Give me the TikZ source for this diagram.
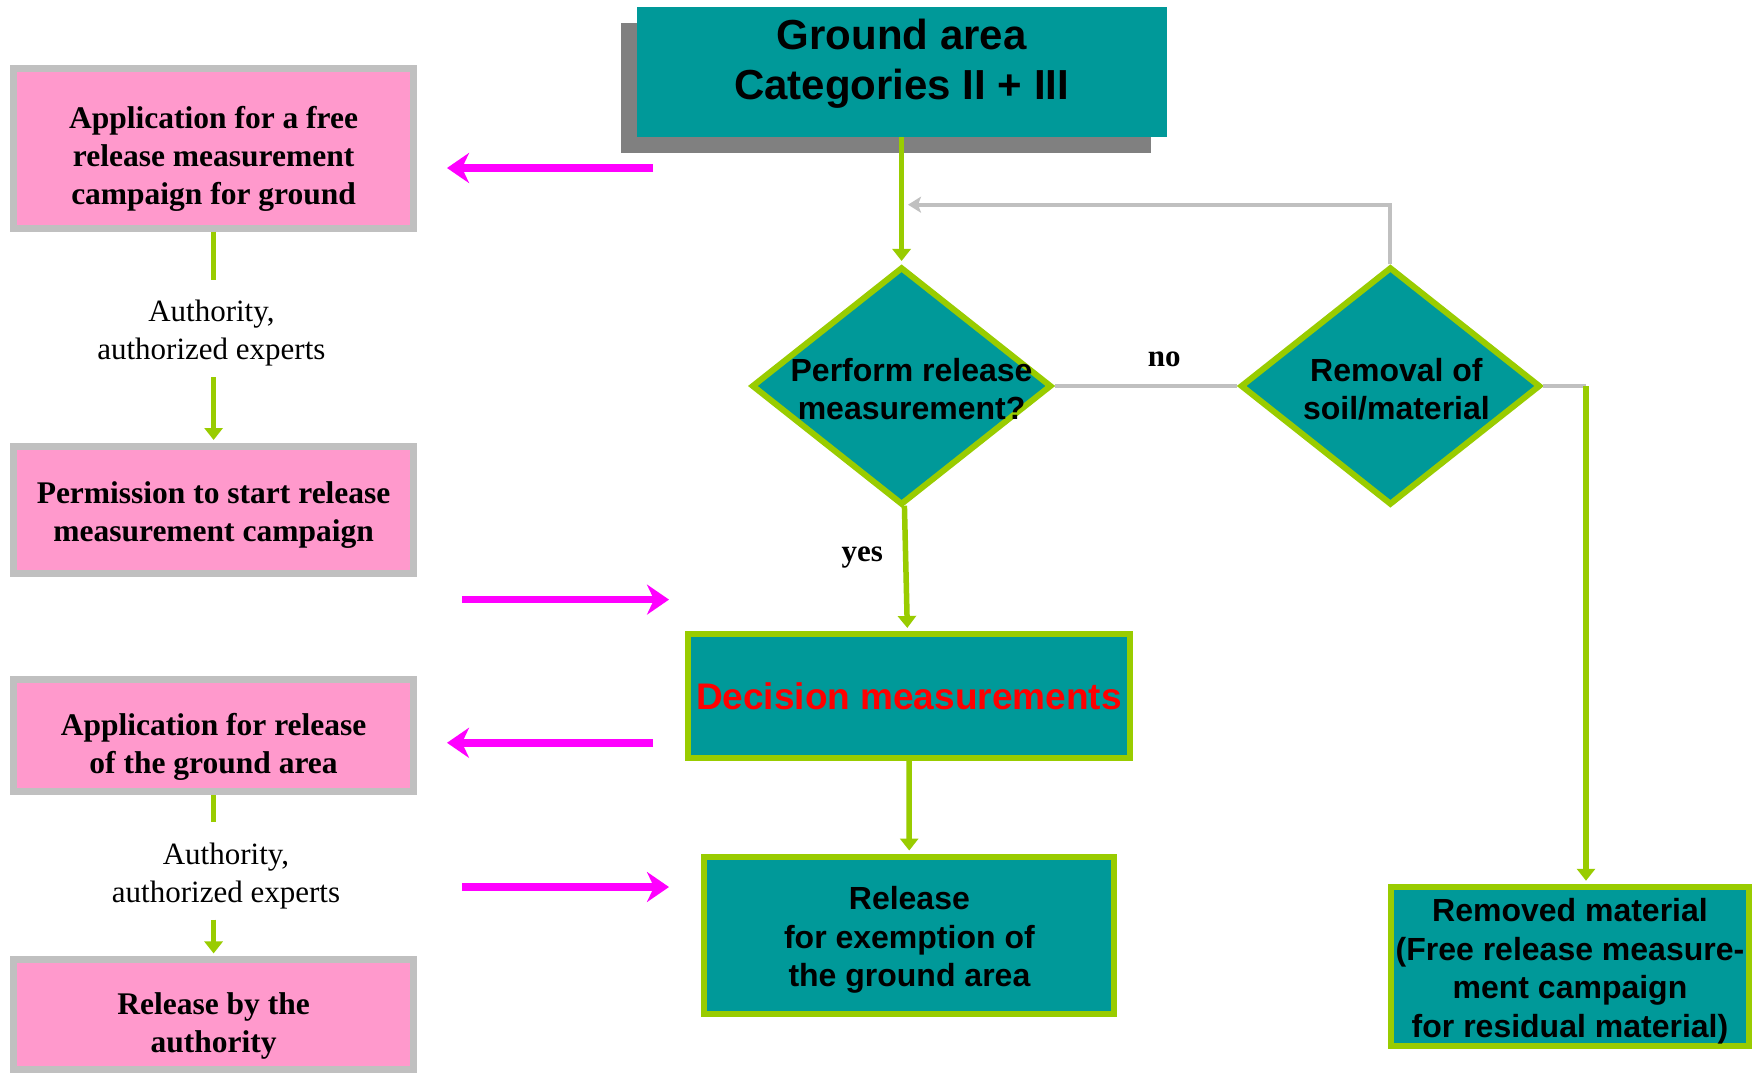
\documentclass[tikz,border=0pt]{standalone}
\usepackage{fontspec}
\setmainfont{Liberation Serif}
\setsansfont{Liberation Sans}
\usepackage{xcolor}
\usepackage{tikz}
\usetikzlibrary{shapes.geometric, arrows.meta, shadows}

\definecolor{tealfill}{RGB}{0,153,153}
\definecolor{limegreen}{RGB}{153,204,0}
\definecolor{pinkfill}{RGB}{255,153,204}
\definecolor{bordergray}{RGB}{192,192,192}
\definecolor{shadowgray}{RGB}{128,128,128}
\definecolor{infomagenta}{RGB}{255,0,255}

% taller first line, pushes the text block down
\newcommand{\topgap}[1]{\rule{0pt}{#1}}

\begin{document}
\begin{tikzpicture}[x=1pt, y=-1pt,
    titlebox/.style={fill=tealfill, minimum width=530pt, minimum height=130pt,
        general shadow={fill=shadowgray, shadow xshift=-15.5pt, shadow yshift=-16.5pt}},
    titletext/.style={align=center, font=\fontsize{42}{50}\selectfont\sffamily\bfseries},
    pinkbox/.style={draw=bordergray, line width=7pt, fill=pinkfill, minimum width=400pt,
        align=center, font=\fontsize{31.5}{38}\selectfont\bfseries},
    tealbox/.style={draw=limegreen, line width=6pt, fill=tealfill, align=center,
        font=\fontsize{32}{38.5}\selectfont\sffamily\bfseries},
    decision/.style={diamond, draw=limegreen, line width=6pt, fill=tealfill,
        minimum width=300pt, minimum height=238pt, inner sep=0pt},
    dectext/.style={align=center, font=\fontsize{32}{38}\selectfont\sffamily\bfseries},
    authtext/.style={align=center, inner sep=0pt, minimum height=97pt, font=\fontsize{31}{38}\selectfont},
    answer/.style={inner sep=2pt, font=\fontsize{31}{38}\selectfont\bfseries},
    flowline/.style={draw=limegreen, line width=5.5pt},
    flowarrow/.style={flowline, shorten >=3pt, -{Triangle[length=12pt,width=18pt]}},
    grayline/.style={draw=bordergray, line width=4pt},
    grayarrow/.style={grayline, -{Stealth[length=13pt,width=16pt,inset=3pt]}},
    infoarrow/.style={draw=infomagenta, line width=7.5pt, -{Stealth[length=22pt,width=30pt,inset=7pt]}}]

    \path[use as bounding box, fill=white] (0,0) rectangle (1754,1073);

    % left column
    \node[pinkbox, minimum height=159.7pt] (appfree) at (213.6,148.2) {\topgap{44pt}Application for a free\\release measurement\\campaign for ground};
    \node[authtext] (expertsa) at (211.4,328.4) {\topgap{31pt}Authority,\\authorized experts};
    \node[pinkbox, minimum height=127.2pt] (permission) at (213.6,510.1) {\topgap{32pt}Permission to start release\\measurement campaign};
    \node[pinkbox, minimum height=112.7pt] (apparea) at (213.6,735.5) {\topgap{44pt}Application for release\\of the ground area};
    \node[authtext] (expertsb) at (226,870.9) {\topgap{32pt}Authority,\\authorized experts};
    \node[pinkbox, minimum height=109.3pt] (byauth) at (213.6,1014.6) {\topgap{44pt}Release by the\\authority};

    % flow chart
    \node[titlebox] (title) at (901.6,71.6) {};
    \node[titletext] (titletext) at ([yshift=7.5pt]title.center) {Ground area\\Categories II + III};
    \node[decision] (perform) at (901.6,386) {};
    \node[dectext] (performtext) at ([xshift=10pt,yshift=-3pt]perform.center) {Perform release\\measurement?};
    \node[decision] (removal) at (1390.4,386) {};
    \node[dectext] (removaltext) at ([xshift=6pt,yshift=-3pt]removal.center) {Removal of\\soil/material};
    \node[tealbox, minimum width=442.6pt, minimum height=123.7pt] (decide) at (908.9,695.8)
        {\color{red}\fontsize{37}{44}\selectfont Decision measurements};
    \node[tealbox, minimum width=410pt, minimum height=157.3pt] (release) at (909.4,935.2)
        {\topgap{33pt}Release\\for exemption of\\the ground area};
    \node[tealbox, minimum width=357.7pt, minimum height=159.5pt, inner sep=0pt] (removed) at (1570,966.5)
        {\topgap{33pt}Removed material\\(Free release measure-\\ment campaign\\for residual material)};

    \coordinate (loopend) at (908,204.7);
    \coordinate (turn) at (1586,386);

    \draw[flowline] (appfree) -- (appfree |- expertsa.north);
    \draw[flowarrow] (appfree |- expertsa.south) -- (permission);
    \draw[flowline] (apparea) -- (apparea |- expertsb.north);
    \draw[flowarrow] (apparea |- expertsb.south) -- (byauth);

    \draw[flowarrow] (title) -- (perform);
    \draw[flowarrow] (perform) -- node[answer, left=18pt, pos=0.41] {yes} (decide);
    \draw[flowarrow] (decide) -- (release);
    \draw[grayline] (perform) -- node[answer, above=15pt, pos=0.6] {no} (removal);
    \draw[grayarrow] (removal.north) |- (loopend);
    \draw[grayline] (removal.east) -- (turn);
    \draw[flowarrow] (turn) -- (turn |- removed.north);

    \foreach \n/\y/\a/\b in {1/168/653/447, 2/599.6/462/669, 3/742.8/653/447, 4/887/462/669} {
        \coordinate (infofrom\n) at (\a,\y);
        \coordinate (infoto\n) at (\b,\y);
        \draw[infoarrow] (infofrom\n) -- (infoto\n);
    }
\end{tikzpicture}
\end{document}
